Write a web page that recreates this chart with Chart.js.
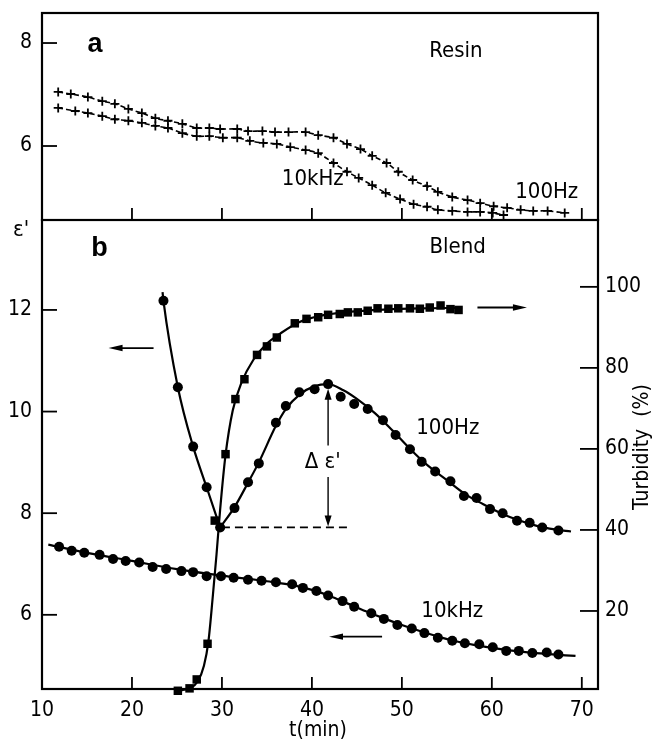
<!DOCTYPE html>
<html><head><meta charset="utf-8">
<script src="https://cdn.jsdelivr.net/npm/chart.js@4.4.1/dist/chart.umd.min.js"></script>
<style>
html,body{margin:0;padding:0;background:#fff;}
#wrap{position:relative;width:655px;height:740px;background:#fff;}
canvas{position:absolute;left:0;}
#cA{top:0;} #cB{top:219px;}
</style></head><body>
<div id="wrap"><canvas id="cA" width="655" height="221"></canvas><canvas id="cB" width="655" height="521"></canvas></div>
<script>
// ---------------- data ----------------
const xTicks = [10, 20, 30, 40, 50, 60, 70];
const resinTicks = [6, 8];
const blendTicks = [6, 8, 10, 12];
const turbTicks = [20, 40, 60, 80, 100];

// Panel a: Resin
const resin100Hz_t = [11.8,13.2,15.1,16.7,18.1,19.6,21.1,22.6,24.0,25.6,27.2,28.6,29.8,31.7,32.9,34.5,35.9,37.4,39.3,40.7,42.4,43.9,45.4,46.7,48.3,49.6,51.2,52.8,54.0,55.6,57.3,58.7,60.2,61.7,63.2,64.6,66.2,68.1];
const resin100Hz_e = [7.05,7.01,6.95,6.87,6.82,6.72,6.64,6.54,6.49,6.43,6.35,6.35,6.33,6.33,6.29,6.29,6.27,6.27,6.27,6.21,6.16,6.04,5.94,5.81,5.67,5.50,5.34,5.22,5.11,5.01,4.95,4.89,4.83,4.80,4.76,4.74,4.74,4.70];
const resin10kHz_t = [11.8,13.7,15.1,16.7,18.1,19.6,21.1,22.6,24.0,25.6,27.2,28.6,30.1,31.7,33.1,34.6,36.1,37.6,39.3,40.7,42.4,43.9,45.2,46.7,48.2,49.8,51.3,52.8,54.0,55.6,57.3,58.7,60.1,61.3];
const resin10kHz_e = [6.74,6.68,6.64,6.58,6.52,6.49,6.45,6.39,6.35,6.25,6.19,6.19,6.16,6.16,6.10,6.06,6.04,5.98,5.92,5.86,5.67,5.50,5.38,5.24,5.09,4.97,4.87,4.82,4.76,4.74,4.72,4.72,4.70,4.66];

// Panel b: Blend, measured points
const blend100Hz_t = [23.5,25.1,26.8,28.3,29.8,31.4,32.9,34.1,36.0,37.1,38.6,40.3,41.8,43.2,44.7,46.2,47.9,49.3,50.9,52.2,53.7,55.4,56.9,58.3,59.8,61.2,62.8,64.2,65.6,67.4];
const blend100Hz_e = [12.18,10.48,9.31,8.51,7.72,8.10,8.61,8.98,9.78,10.11,10.38,10.44,10.54,10.29,10.15,10.05,9.83,9.54,9.26,9.01,8.82,8.63,8.34,8.30,8.08,8.00,7.85,7.81,7.72,7.66];
const blend10kHz_t = [11.9,13.3,14.7,16.4,17.9,19.3,20.8,22.3,23.8,25.5,26.8,28.3,29.9,31.3,32.9,34.4,36.0,37.8,39.0,40.5,41.8,43.4,44.7,46.6,48.0,49.5,51.1,52.5,54.0,55.6,57.0,58.6,60.1,61.6,63.0,64.5,66.1,67.4];
const blend10kHz_e = [7.34,7.26,7.22,7.18,7.10,7.06,7.03,6.94,6.90,6.86,6.84,6.76,6.76,6.73,6.69,6.67,6.64,6.60,6.53,6.47,6.38,6.27,6.16,6.03,5.92,5.80,5.73,5.64,5.55,5.49,5.44,5.42,5.36,5.29,5.29,5.25,5.26,5.22];
const turb_t = [25.1,26.4,27.2,28.4,29.2,30.4,31.5,32.5,33.9,35.0,36.1,38.1,39.4,40.7,41.8,43.1,44.0,45.1,46.2,47.3,48.5,49.6,50.9,52.0,53.1,54.3,55.4,56.3];
const turb_v = [0.3,0.9,3.1,11.9,42.3,58.7,72.3,77.2,83.2,85.3,87.5,91.0,92.1,92.5,93.1,93.3,93.7,93.7,94.1,94.7,94.6,94.7,94.7,94.6,94.9,95.4,94.5,94.3];

// Panel b: smooth curves drawn through the data
const fit100Hz_down_t = [23.4,23.5,25.1,26.8,28.3,29.8];
const fit100Hz_down_e = [12.35,12.18,10.48,9.31,8.51,7.72];
const fit100Hz_up_t = [29.8,31.4,32.9,34.1,36.0,37.1,38.6,40.3,41.8,43.5,45.0,47.0,49.0,51.0,53.0,55.0,57.0,59.0,61.0,63.0,65.0,67.0,68.8];
const fit100Hz_up_e = [7.72,8.12,8.60,9.00,9.72,10.05,10.33,10.50,10.54,10.42,10.25,9.97,9.62,9.25,8.92,8.65,8.38,8.18,8.00,7.86,7.75,7.68,7.64];
const fit10kHz_t = [10.7,15,20,25,30,35,38,40,42,44,46,48,50,52,54,56,58,60,62,64,66,69.3];
const fit10kHz_e = [7.38,7.22,7.06,6.90,6.77,6.66,6.58,6.49,6.37,6.22,6.07,5.93,5.80,5.68,5.57,5.48,5.41,5.35,5.30,5.26,5.23,5.19];
const fitTurb_t = [25.5,26.5,27.3,28.0,28.5,29.0,29.4,29.8,30.4,31.2,32.2,33.5,35.0,36.5,38.5,41,44,48,52,56.7];
const fitTurb_v = [0.4,1.0,2.6,6.5,12.5,24,34,45,58.5,69.5,76.5,82,86,88.5,91.2,92.9,93.8,94.4,94.7,94.8];

// ---------------- helpers ----------------
const FONT = "'Liberation Sans Narrow','DejaVu Sans Condensed','Liberation Sans',sans-serif";
const zip = (a, b) => a.map((v, i) => ({x: v, y: b[i]}));
Chart.defaults.font.family = FONT;
Chart.defaults.font.size = 21;
Chart.defaults.color = '#000';

function seg(ctx, x1, y1, x2, y2) { ctx.beginPath(); ctx.moveTo(x1, y1); ctx.lineTo(x2, y2); ctx.stroke(); }
function arrow(ctx, x1, y1, x2, y2, hl, hw) {
  const a = Math.atan2(y2 - y1, x2 - x1), c = Math.cos(a), s = Math.sin(a);
  seg(ctx, x1, y1, x2 - c * hl * 0.6, y2 - s * hl * 0.6);
  ctx.beginPath(); ctx.moveTo(x2, y2);
  ctx.lineTo(x2 - c * hl + s * hw, y2 - s * hl - c * hw);
  ctx.lineTo(x2 - c * hl - s * hw, y2 - s * hl + c * hw);
  ctx.closePath(); ctx.fill();
}
function txt(ctx, s, x, y, size, bold, align) {
  ctx.font = (bold ? 'bold ' : '') + size + 'px ' + (bold ? "'Liberation Sans','DejaVu Sans',sans-serif" : FONT);
  ctx.textAlign = align || 'center'; ctx.textBaseline = 'middle';
  ctx.fillText(s, x, y);
}
function frameAndTicks(chart, leftScale, leftTicks, rightScale, rightTicks) {
  const ctx = chart.ctx, ca = chart.chartArea, sx = chart.scales.x;
  ctx.save();
  ctx.strokeStyle = '#000'; ctx.fillStyle = '#000';
  ctx.lineWidth = 2.2;
  ctx.strokeRect(ca.left, ca.top, ca.right - ca.left, ca.bottom - ca.top);
  ctx.lineWidth = 1.8;
  xTicks.forEach(v => { if (v > sx.min && v < sx.max) { const p = sx.getPixelForValue(v); seg(ctx, p, ca.bottom, p, ca.bottom - 12); } });
  leftTicks.forEach(v => { const p = leftScale.getPixelForValue(v); seg(ctx, ca.left, p, ca.left + 15, p); });
  if (rightScale) rightTicks.forEach(v => { const p = rightScale.getPixelForValue(v); seg(ctx, ca.right, p, ca.right - 18, p); });
  ctx.restore();
}

const baseOpts = {
  responsive: false, animation: false, events: [],
  plugins: { legend: { display: false }, tooltip: { enabled: false } }
};
const setTicks = arr => s => { s.ticks = arr.map(v => ({ value: v })); };
const fitW = w => s => { s.width = w; s.paddingTop = 0; s.paddingBottom = 0; s.paddingLeft = 0; s.paddingRight = 0; };
const fitH = h => s => { s.height = h; s.paddingTop = 0; s.paddingBottom = 0; s.paddingLeft = 0; s.paddingRight = 0; };

// ---------------- panel a ----------------
const plugA = {
  id: 'plugA',
  afterDraw(chart) {
    const ctx = chart.ctx, sx = chart.scales.x, sy = chart.scales.y;
    frameAndTicks(chart, sy, resinTicks, null, null);
    ctx.save(); ctx.fillStyle = '#000';
    txt(ctx, 'a', sx.getPixelForValue(15.9), sy.getPixelForValue(7.98), 27, true);
    txt(ctx, 'Resin', sx.getPixelForValue(56.0), sy.getPixelForValue(7.84), 22);
    txt(ctx, '10kHz', sx.getPixelForValue(40.1), sy.getPixelForValue(5.36), 22);
    txt(ctx, '100Hz', sx.getPixelForValue(66.1), sy.getPixelForValue(5.11), 22);
    ctx.restore();
  }
};
const resinStyle = { showLine: true, borderColor: '#000', borderWidth: 1.6, borderDash: [5, 3],
  pointStyle: 'cross', pointRadius: 4.5, pointBorderWidth: 1.8, pointBorderColor: '#000', tension: 0.3, clip: false };
new Chart(document.getElementById('cA'), {
  type: 'scatter',
  data: { datasets: [
    Object.assign({ label: 'Resin 100Hz', data: zip(resin100Hz_t, resin100Hz_e) }, resinStyle),
    Object.assign({ label: 'Resin 10kHz', data: zip(resin10kHz_t, resin10kHz_e) }, resinStyle)
  ]},
  options: Object.assign({}, baseOpts, {
    layout: { autoPadding: false, padding: { top: 13, right: 57, bottom: 1, left: 0 } },
    scales: {
      x: { type: 'linear', min: 10, max: 71.8, display: false },
      y: { type: 'linear', min: 4.563, max: 8.583, position: 'left',
           afterBuildTicks: setTicks(resinTicks), afterFit: fitW(42),
           grid: { display: false, drawTicks: false }, border: { display: false },
           ticks: { padding: 10, autoSkip: false, font: { size: 21 } } }
    }
  }),
  plugins: [plugA]
});

// ---------------- panel b ----------------
const plugB = {
  id: 'plugB',
  afterDraw(chart) {
    const ctx = chart.ctx, sx = chart.scales.x, sy = chart.scales.y, sr = chart.scales.y2;
    frameAndTicks(chart, sy, blendTicks, sr, turbTicks);
    const X = v => sx.getPixelForValue(v), Y = v => sy.getPixelForValue(v), R = v => sr.getPixelForValue(v);
    ctx.save(); ctx.fillStyle = '#000'; ctx.strokeStyle = '#000';
    // texts
    txt(ctx, 'b', X(16.4), Y(13.2), 27, true);
    txt(ctx, 'Blend', X(56.2), Y(13.24), 22);
    txt(ctx, '100Hz', X(55.1), Y(9.68), 22);
    txt(ctx, '10kHz', X(55.6), Y(6.06), 22);
    txt(ctx, "\u0394 \u03b5'", X(41.2), Y(9.0), 22);
    txt(ctx, "\u03b5'", 21, 11, 22);
    txt(ctx, 't(min)', 318, 512, 21);
    ctx.save(); ctx.translate(643, 228); ctx.rotate(-Math.PI / 2);
    txt(ctx, 'Turbidity  (%)', 0, 0, 21); ctx.restore();
    // arrows
    ctx.lineWidth = 1.8;
    arrow(ctx, X(22.4), Y(11.25), X(17.4), Y(11.25), 14, 3.2);
    arrow(ctx, X(47.8), Y(5.57), X(41.9), Y(5.57), 14, 3.2);
    arrow(ctx, X(58.4), R(94.9), X(63.9), R(94.9), 14, 3.2);
    // delta epsilon arrows
    ctx.lineWidth = 1.4;
    arrow(ctx, X(41.8), Y(9.33), X(41.8), Y(10.45), 11, 3.5);
    arrow(ctx, X(41.8), Y(8.71), X(41.8), Y(7.74), 11, 3.5);
    // dashed baseline
    ctx.lineWidth = 1.6; ctx.setLineDash([8, 5]);
    seg(ctx, X(30.0), Y(7.72), X(44.4), Y(7.72));
    ctx.restore();
  }
};
const lineStyle = { showLine: true, borderColor: '#000', borderWidth: 2.2, pointRadius: 0, cubicInterpolationMode: 'monotone', clip: false };
const dotStyle = { showLine: false, pointStyle: 'circle', pointRadius: 5, backgroundColor: '#000', borderColor: '#000', pointBorderWidth: 0, clip: false };
new Chart(document.getElementById('cB'), {
  type: 'scatter',
  data: { datasets: [
    Object.assign({ label: '100Hz curve (falling)', data: zip(fit100Hz_down_t, fit100Hz_down_e), yAxisID: 'y' }, lineStyle),
    Object.assign({ label: '100Hz curve (rising)', data: zip(fit100Hz_up_t, fit100Hz_up_e), yAxisID: 'y' }, lineStyle),
    Object.assign({ label: '10kHz curve', data: zip(fit10kHz_t, fit10kHz_e), yAxisID: 'y' }, lineStyle),
    Object.assign({ label: 'Turbidity curve', data: zip(fitTurb_t, fitTurb_v), yAxisID: 'y2' }, lineStyle),
    Object.assign({ label: 'Blend 100Hz', data: zip(blend100Hz_t, blend100Hz_e), yAxisID: 'y' }, dotStyle),
    Object.assign({ label: 'Blend 10kHz', data: zip(blend10kHz_t, blend10kHz_e), yAxisID: 'y' }, dotStyle),
    Object.assign({ label: 'Turbidity', data: zip(turb_t, turb_v), yAxisID: 'y2' }, dotStyle, { pointStyle: 'rect', pointRadius: 6 })
  ]},
  options: Object.assign({}, baseOpts, {
    layout: { autoPadding: false, padding: { top: 1, right: 0, bottom: 0, left: 0 } },
    scales: {
      x: { type: 'linear', min: 10, max: 71.8, position: 'bottom',
           afterBuildTicks: setTicks(xTicks), afterFit: fitH(51),
           grid: { display: false, drawTicks: false }, border: { display: false },
           ticks: { padding: 9, autoSkip: false, maxRotation: 0, font: { size: 21 } } },
      y: { type: 'linear', min: 4.54, max: 13.77, position: 'left',
           afterBuildTicks: setTicks(blendTicks), afterFit: fitW(42),
           grid: { display: false, drawTicks: false }, border: { display: false },
           ticks: { padding: 10, autoSkip: false, font: { size: 21 } } },
      y2: { type: 'linear', min: 0.74, max: 116.5, position: 'right',
           afterBuildTicks: setTicks(turbTicks), afterFit: fitW(57),
           grid: { display: false, drawTicks: false }, border: { display: false },
           ticks: { padding: 7, autoSkip: false, font: { size: 21 } } }
    }
  }),
  plugins: [plugB]
});
</script>
</body></html>
